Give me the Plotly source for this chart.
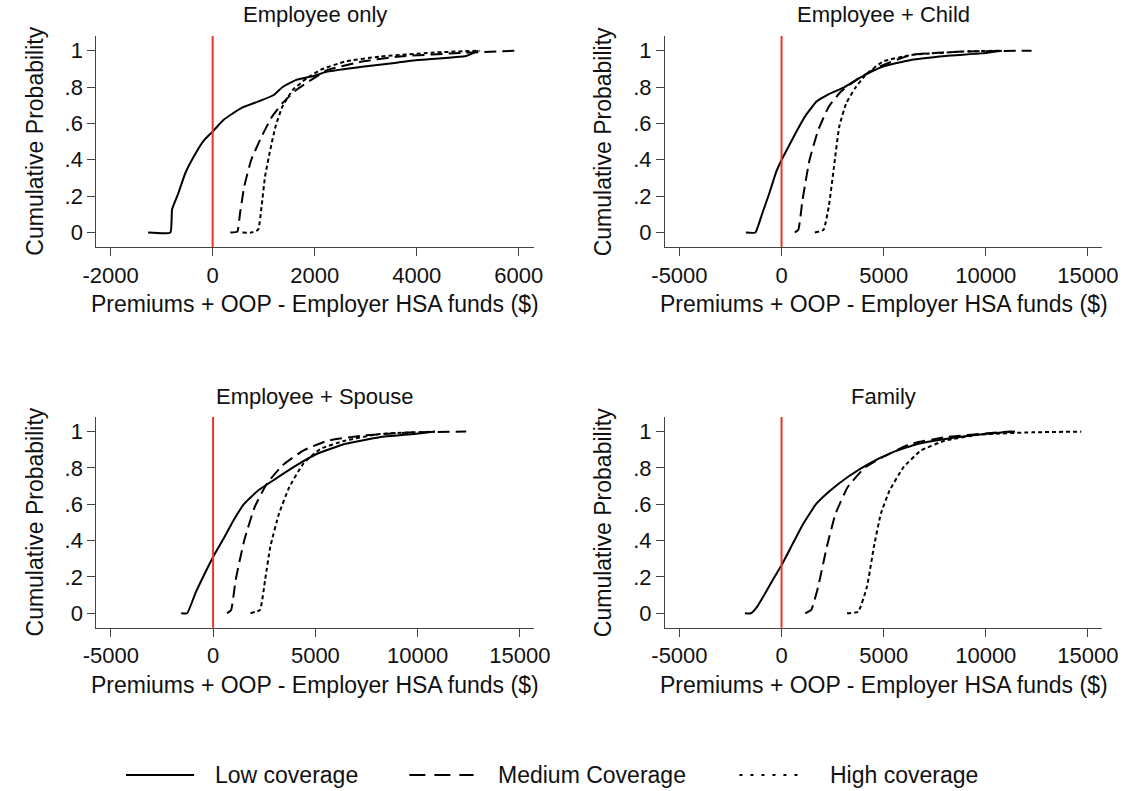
import plotly.graph_objects as go

# ---- Empirical CDFs: cost values ($) and cumulative probability ----
# Employee only
emp_low_x = [-1265, -830, -796, -673, -537, -333, -163, 0, 211, 551, 891, 1197, 1367, 1639, 1980, 2252, 2932, 3612, 4020, 4973, 5210]
emp_low_p = [0, 0, 0.128, 0.216, 0.326, 0.436, 0.509, 0.555, 0.619, 0.683, 0.720, 0.756, 0.799, 0.839, 0.861, 0.885, 0.912, 0.934, 0.949, 0.971, 1.0]
emp_med_x = [347, 483, 537, 619, 755, 959, 1163, 1367, 1639, 1980, 2252, 2932, 3612, 4973, 6027]
emp_med_p = [0, 0.005, 0.106, 0.253, 0.399, 0.527, 0.637, 0.711, 0.784, 0.848, 0.894, 0.940, 0.967, 0.989, 1.0]
emp_high_x = [585, 755, 891, 959, 1027, 1129, 1231, 1367, 1571, 1843, 2115, 2592, 3272, 4292, 5244]
emp_high_p = [0, 0, 0.015, 0.143, 0.308, 0.454, 0.582, 0.692, 0.784, 0.848, 0.894, 0.940, 0.967, 0.989, 1.0]

# Employee + Child
chd_low_x = [-1747, -1284, -942, -599, -257, 0, 342, 771, 1199, 1712, 2226, 3082, 3938, 4966, 6336, 8048, 9760, 10788]
chd_low_p = [0, 0, 0.106, 0.216, 0.335, 0.399, 0.473, 0.564, 0.647, 0.720, 0.756, 0.799, 0.857, 0.912, 0.949, 0.971, 0.985, 1.0]
chd_med_x = [651, 822, 1027, 1370, 1798, 2312, 2911, 3767, 4795, 6336, 8904, 12243]
chd_med_p = [0, 0.015, 0.179, 0.399, 0.564, 0.692, 0.775, 0.848, 0.912, 0.976, 0.995, 1.0]
chd_high_x = [1627, 2055, 2312, 2568, 2825, 3168, 3596, 4110, 4966, 6336, 8904, 10788]
chd_high_p = [0, 0.015, 0.143, 0.363, 0.582, 0.711, 0.793, 0.866, 0.940, 0.976, 0.995, 1.0]

# Employee + Spouse
sps_low_x = [-1559, -1271, -847, -424, 0, 508, 1017, 1525, 2203, 3051, 4068, 5085, 6441, 8136, 9831, 10847]
sps_low_p = [0, 0, 0.115, 0.215, 0.310, 0.410, 0.515, 0.603, 0.676, 0.740, 0.814, 0.878, 0.932, 0.969, 0.987, 1.0]
sps_med_x = [678, 881, 1102, 1525, 2034, 2627, 3390, 4407, 5593, 7288, 9831, 12373]
sps_med_p = [0, 0.018, 0.183, 0.402, 0.585, 0.713, 0.814, 0.896, 0.950, 0.978, 0.996, 1.0]
sps_high_x = [1831, 2288, 2542, 2797, 3220, 3729, 4407, 5254, 6441, 8136, 10847]
sps_high_p = [0, 0.018, 0.183, 0.366, 0.548, 0.695, 0.823, 0.905, 0.950, 0.987, 1.0]

# Family
fam_low_x = [-1792, -1502, -1200, -800, -400, 0, 512, 1024, 1706, 2389, 3242, 4266, 5461, 6655, 8020, 9727, 11433]
fam_low_p = [0, 0, 0.035, 0.110, 0.190, 0.265, 0.375, 0.485, 0.603, 0.676, 0.750, 0.823, 0.887, 0.932, 0.960, 0.984, 1.0]
fam_med_x = [1160, 1451, 1792, 2218, 2645, 3242, 4096, 4949, 6314, 8020, 10580, 11263]
fam_med_p = [0, 0.018, 0.146, 0.366, 0.548, 0.695, 0.804, 0.859, 0.932, 0.969, 0.996, 1.0]
fam_high_x = [3208, 3754, 4181, 4522, 4863, 5290, 5973, 6826, 8020, 9727, 12287, 14676]
fam_high_p = [0, 0.009, 0.146, 0.366, 0.548, 0.676, 0.804, 0.896, 0.951, 0.984, 0.996, 1.0]

panel_titles = ["Employee only", "Employee + Child", "Employee + Spouse", "Family"]
series_names = ["Low coverage", "Medium Coverage", "High coverage"]
x_title = "Premiums + OOP - Employer HSA funds ($)"
y_title = "Cumulative Probability"
y_tickvals = [0, 0.2, 0.4, 0.6, 0.8, 1]
y_ticktext = ["0", ".2", ".4", ".6", ".8", "1"]
x_ticks_small = [-2000, 0, 2000, 4000, 6000]
x_ticks_large = [-5000, 0, 5000, 10000, 15000]

panels = [
    [(emp_low_x, emp_low_p), (emp_med_x, emp_med_p), (emp_high_x, emp_high_p)],
    [(chd_low_x, chd_low_p), (chd_med_x, chd_med_p), (chd_high_x, chd_high_p)],
    [(sps_low_x, sps_low_p), (sps_med_x, sps_med_p), (sps_high_x, sps_high_p)],
    [(fam_low_x, fam_low_p), (fam_med_x, fam_med_p), (fam_high_x, fam_high_p)],
]

W, H = 1143, 791
FONT = "Liberation Sans, Arial, Helvetica, sans-serif"
TXT = "#111111"
dash_styles = ["solid", "12px,6px", "4px,3px"]

# panel frames in pixels: (left, right, top, bottom)
frames = [
    (84.7, 534.3, 36, 247),
    (668.7, 1117.5, 36, 247),
    (84.7, 534.3, 417, 627.7),
    (668.7, 1117.5, 417, 627.7),
]
x_ranges = [[-2278, 6306], [-5700, 15700], [-5700, 15700], [-5700, 15700]]
y_range = [-0.0795, 1.0805]


def tick_label(v):
    # plain hyphen for negatives, no thousands abbreviation
    return ("-" if v < 0 else "") + str(abs(v))


fig = go.Figure()
annotations = []
shapes = []

for i, (curves, frame) in enumerate(zip(panels, frames)):
    k = "" if i == 0 else str(i + 1)
    xa, ya = "x" + k, "y" + k
    for (xs, ps), dash, name in zip(curves, dash_styles, series_names):
        fig.add_trace(go.Scatter(
            x=xs, y=ps, mode="lines", xaxis=xa, yaxis=ya, name=name,
            line=dict(color="black", width=2, dash=dash, shape="spline", smoothing=0.4),
            showlegend=False, hoverinfo="skip",
        ))
    l, r, t, b = frame
    axis_common = dict(
        showline=True, linecolor="#444444", linewidth=1.3,
        ticks="outside", ticklen=8, tickwidth=1.3, tickcolor="#444444",
        showgrid=False, zeroline=False,
        tickfont=dict(family=FONT, size=22, color=TXT),
    )
    xt = x_ticks_small if i == 0 else x_ticks_large
    fig.layout["xaxis" + k] = dict(
        domain=[l / W, r / W], anchor=ya, range=x_ranges[i],
        tickvals=xt, ticktext=[tick_label(v) for v in xt],
        **axis_common,
    )
    fig.layout["yaxis" + k] = dict(
        domain=[1 - b / H, 1 - t / H], anchor=xa, range=y_range,
        tickvals=y_tickvals, ticktext=y_ticktext,
        **axis_common,
    )
    # red reference line at zero
    shapes.append(dict(
        type="line", xref=xa, yref=ya + " domain", x0=0, x1=0, y0=0, y1=1,
        line=dict(color="rgb(238,50,36)", width=2),
    ))
    cx = (l + r) / 2 / W
    annotations.append(dict(
        text=panel_titles[i], x=cx, y=1 - (t - 21) / H, xref="paper", yref="paper",
        xanchor="center", yanchor="middle", showarrow=False,
        font=dict(family=FONT, size=22, color=TXT),
    ))
    annotations.append(dict(
        text=x_title, x=cx, y=1 - (b + 57) / H, xref="paper", yref="paper",
        xanchor="center", yanchor="middle", showarrow=False,
        font=dict(family=FONT, size=23, color=TXT),
    ))
    annotations.append(dict(
        text=y_title, x=(l - 63) / W, y=1 - (t + b) / 2 / H, xref="paper", yref="paper",
        xanchor="center", yanchor="middle", showarrow=False, textangle=-90,
        font=dict(family=FONT, size=23, color=TXT),
    ))

# legend row at the bottom
legend_items = [
    (115, 185, 204, "solid"),
    (406, 472, 495, "16px,9px"),
    (745, 812, 836, "3px,8px"),
]
ly = 1 - 775 / H
for (x0, x1, tx, dash), name in zip(legend_items, series_names):
    shapes.append(dict(
        type="line", xref="paper", yref="paper", x0=x0 / W, x1=x1 / W, y0=ly, y1=ly,
        line=dict(color="black", width=2, dash=dash),
    ))
    annotations.append(dict(
        text=name, x=tx / W, y=ly, xref="paper", yref="paper",
        xanchor="left", yanchor="middle", showarrow=False,
        font=dict(family=FONT, size=23, color=TXT),
    ))

fig.update_layout(
    width=W, height=H, margin=dict(l=0, r=0, t=0, b=0),
    paper_bgcolor="white", plot_bgcolor="white",
    shapes=shapes, annotations=annotations, showlegend=False,
)

fig.write_html("out.html")
